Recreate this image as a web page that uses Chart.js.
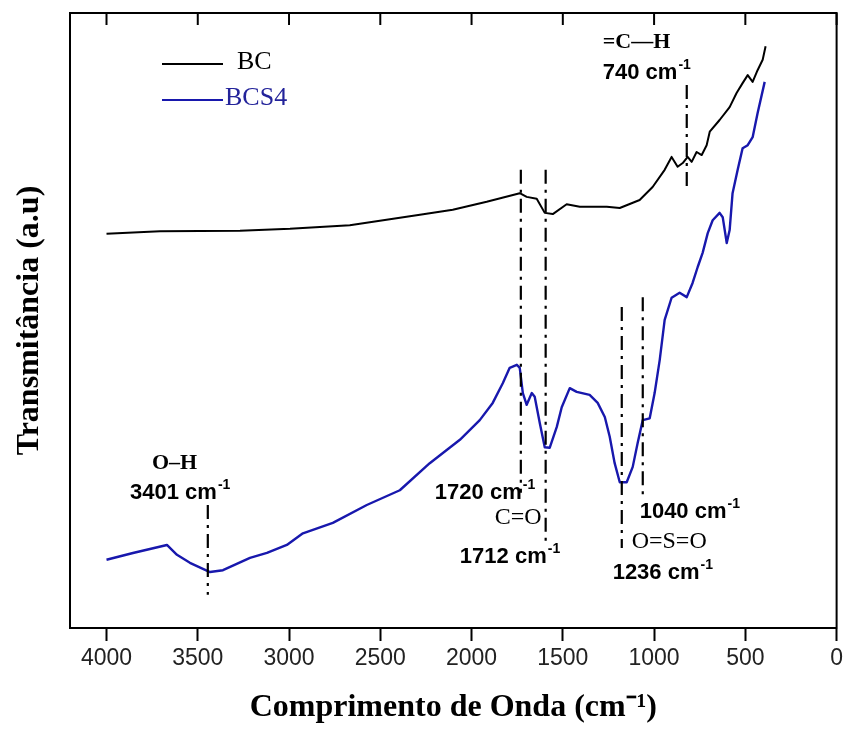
<!DOCTYPE html>
<html lang="pt">
<head>
<meta charset="UTF-8">
<title>FTIR - BC e BCS4</title>
<script src="https://cdn.jsdelivr.net/npm/chart.js"></script>
<style>
  html, body { margin: 0; padding: 0; background: #fff; }
</style>
</head>
<body>
<canvas id="ftir" width="847" height="735"></canvas>
<script>
// wavenumber (cm-1) and transmittance (a.u.)
const bcWave = [4000, 3707, 3269, 2995, 2667, 2283, 2103, 1917, 1736, 1698, 1643, 1599, 1555, 1479, 1407, 1259, 1188, 1079, 1008, 942, 904, 871, 843, 816, 794, 767, 739, 712, 695, 641, 586, 548, 515, 487, 460, 433, 405, 389];
const bcTrans = [64.1, 64.5, 64.6, 64.9, 65.5, 67.2, 68.0, 69.3, 70.7, 70.1, 69.8, 67.5, 67.3, 68.9, 68.5, 68.5, 68.3, 69.6, 71.7, 74.5, 76.6, 75.0, 75.6, 76.6, 75.8, 77.4, 76.9, 78.5, 80.7, 82.6, 84.7, 87.0, 88.6, 89.9, 88.8, 90.7, 92.4, 94.6];

const bcs4Wave = [4000, 3855, 3669, 3614, 3543, 3433, 3362, 3214, 3121, 3012, 2924, 2760, 2574, 2393, 2229, 2064, 1955, 1884, 1829, 1791, 1752, 1736, 1719, 1698, 1670, 1654, 1626, 1599, 1572, 1533, 1506, 1462, 1424, 1353, 1309, 1270, 1243, 1216, 1188, 1150, 1117, 1090, 1062, 1024, 997, 969, 942, 904, 860, 821, 789, 761, 734, 706, 679, 641, 624, 602, 586, 570, 542, 515, 487, 460, 433, 394];
const bcs4Trans = [11.1, 12.2, 13.5, 11.9, 10.6, 9.1, 9.4, 11.4, 12.2, 13.5, 15.4, 17.1, 20.0, 22.4, 26.8, 30.6, 33.8, 36.6, 39.8, 42.3, 42.8, 42.3, 38.2, 36.3, 38.2, 37.6, 33.3, 29.4, 29.3, 32.7, 35.9, 39.0, 38.4, 37.9, 36.6, 34.3, 31.1, 26.8, 23.7, 23.7, 26.2, 30.1, 33.8, 34.1, 38.2, 43.6, 50.1, 53.7, 54.5, 53.8, 56.1, 58.7, 61.0, 64.2, 66.3, 67.5, 66.8, 62.6, 64.7, 70.7, 74.5, 78.0, 78.5, 79.8, 83.7, 88.8];

const xTicks = [4000, 3500, 3000, 2500, 2000, 1500, 1000, 500, 0];

// dash-dot peak markers
const peakWave = [3445, 1730, 1594, 1177, 1062, 821];
const peakTop = [20.0, 74.5, 74.5, 52.2, 53.8, 88.3];
const peakBottom = [5.4, 22.0, 13.2, 13.0, 20.8, 71.2];

// peak labels: text, superscript, anchor (wave, trans), font kind
const peakLabels = [
    { text: '=C\u2014H', sup: '', wave: 1281, trans: 95.2, kind: 'serifBold' },
    { text: '740 cm', sup: '-1', wave: 1281, trans: 90.3, kind: 'sans' },
    { text: 'O\u2013H', sup: '', wave: 3751, trans: 26.8, kind: 'serifBold' },
    { text: '3401 cm', sup: '-1', wave: 3871, trans: 22.0, kind: 'sans' },
    { text: '1720 cm', sup: '-1', wave: 2201, trans: 22.0, kind: 'sans' },
    { text: 'C=O', sup: '', wave: 1873, trans: 18.0, kind: 'serif' },
    { text: '1712 cm', sup: '-1', wave: 2064, trans: 11.5, kind: 'sans' },
    { text: '1040 cm', sup: '-1', wave: 1079, trans: 18.9, kind: 'sans' },
    { text: 'O=S=O', sup: '', wave: 1123, trans: 14.0, kind: 'serif' },
    { text: '1236 cm', sup: '-1', wave: 1227, trans: 8.9, kind: 'sans' }
];

const blue = '#1818ad';
const serif = "'Liberation Serif', 'Times New Roman', serif";
const sans = "'Liberation Sans', Arial, sans-serif";

const fonts = {
    sans: 'bold 22px ' + sans,
    serifBold: 'bold 22px ' + serif,
    serif: '24px ' + serif
};

const decor = {
    id: 'decor',
    afterDatasetsDraw(chart) {
        const { ctx, chartArea: a, scales: { x, y } } = chart;
        ctx.save();
        ctx.strokeStyle = '#000';
        ctx.lineWidth = 2;
        ctx.strokeRect(a.left, a.top, a.right - a.left, a.bottom - a.top);

        // ticks pointing inward on the top edge
        x.ticks.forEach(t => {
            const px = x.getPixelForValue(t.value);
            ctx.beginPath();
            ctx.moveTo(px, a.top);
            ctx.lineTo(px, a.top + 12);
            ctx.stroke();
        });

        // peak markers
        ctx.setLineDash([14, 6, 3, 6]);
        ctx.lineWidth = 2.2;
        peakWave.forEach((w, i) => {
            const px = x.getPixelForValue(w);
            ctx.beginPath();
            ctx.moveTo(px, y.getPixelForValue(peakTop[i]));
            ctx.lineTo(px, y.getPixelForValue(peakBottom[i]));
            ctx.stroke();
        });
        ctx.setLineDash([]);

        // peak labels
        ctx.fillStyle = '#000';
        ctx.textBaseline = 'middle';
        ctx.textAlign = 'left';
        peakLabels.forEach(l => {
            const px = x.getPixelForValue(l.wave);
            const py = y.getPixelForValue(l.trans);
            ctx.font = fonts[l.kind];
            ctx.fillText(l.text, px, py);
            if (l.sup) {
                const w = ctx.measureText(l.text).width;
                ctx.font = 'bold 14px ' + sans;
                ctx.fillText(l.sup, px + w + 1, py - 8);
            }
        });

        // legend
        ctx.lineWidth = 2;
        ctx.font = '26px ' + serif;
        chart.data.datasets.forEach((ds, i) => {
            const ly = a.top + 51 + i * 36;
            ctx.strokeStyle = ds.borderColor;
            ctx.beginPath();
            ctx.moveTo(a.left + 92, ly);
            ctx.lineTo(a.left + 153, ly);
            ctx.stroke();
            ctx.fillStyle = i === 0 ? '#000' : '#23239a';
            ctx.fillText(ds.label, a.left + (i === 0 ? 167 : 155), ly - 2);
        });
        ctx.restore();
    }
};

const toPoints = (xs, ys) => xs.map((v, i) => ({ x: v, y: ys[i] }));

new Chart(document.getElementById('ftir'), {
    type: 'line',
    data: {
        datasets: [
            { label: 'BC', data: toPoints(bcWave, bcTrans), borderColor: '#000', borderWidth: 2, pointRadius: 0, tension: 0, borderJoinStyle: 'round', fill: false },
            { label: 'BCS4', data: toPoints(bcs4Wave, bcs4Trans), borderColor: blue, borderWidth: 2.4, pointRadius: 0, tension: 0, borderJoinStyle: 'round', fill: false }
        ]
    },
    options: {
        responsive: false,
        animation: false,
        devicePixelRatio: 1,
        layout: { padding: { top: 13, right: 10, bottom: 4, left: 0 } },
        plugins: { legend: { display: false }, tooltip: { enabled: false } },
        scales: {
            x: {
                type: 'linear',
                min: 0,
                max: 4200,
                reverse: true,
                afterFit: s => { s.height = 103; },
                afterBuildTicks: s => { s.ticks = xTicks.map(v => ({ value: v })); },
                grid: { display: true, drawOnChartArea: false, drawTicks: true, tickLength: 13, tickWidth: 2, tickColor: '#000' },
                border: { display: true, color: '#000', width: 2 },
                ticks: { padding: 4, color: '#222', font: { family: sans, size: 23 }, callback: v => String(v) },
                title: {
                    display: true,
                    text: 'Comprimento de Onda (cm\u207B\u00B9)',
                    color: '#000',
                    padding: { top: 0, bottom: 4 },
                    font: { family: serif, size: 32, weight: 'bold' }
                }
            },
            y: {
                min: 0,
                max: 100,
                afterFit: s => { s.width = 70; },
                grid: { display: false },
                border: { display: true, color: '#000', width: 2 },
                ticks: { display: false },
                title: {
                    display: true,
                    text: 'Transmit\u00E2ncia (a.u)',
                    color: '#000',
                    padding: { top: 11, bottom: 0 },
                    font: { family: serif, size: 32, weight: 'bold' }
                }
            }
        }
    },
    plugins: [decor]
});
</script>
</body>
</html>
